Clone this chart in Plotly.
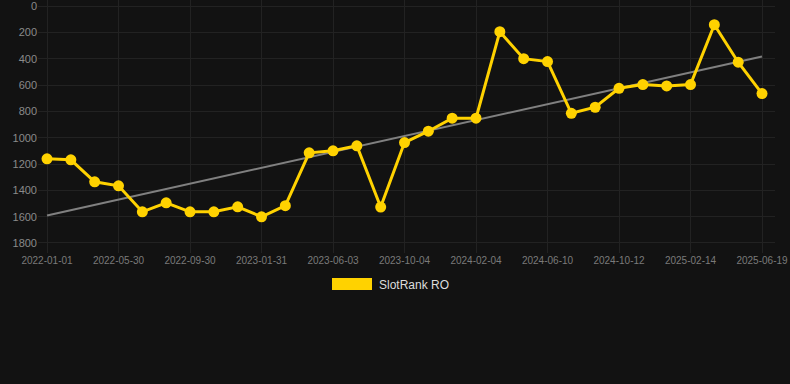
import plotly.graph_objects as go
import numpy as np

tick_labels = ["2022-01-01", "2022-05-30", "2022-09-30", "2023-01-31", "2023-06-03",
               "2023-10-04", "2024-02-04", "2024-06-10", "2024-10-12", "2025-02-14", "2025-06-19"]
rank_values = [1161, 1168, 1335, 1366, 1563, 1495, 1563, 1563, 1525, 1601, 1517,
               1115, 1100, 1062, 1527, 1037, 951, 852, 852, 195, 400, 422,
               815, 769, 625, 597, 607, 597, 142, 427, 665]
series_name = "SlotRank RO"

idx = list(range(len(rank_values)))
tick_pos = idx[::3]

coef = np.polyfit(idx, rank_values, 1)
trend = [coef[0] * i + coef[1] for i in (idx[0], idx[-1])]

gold = "#FFD200"
bg = "#121212"

W, H = 790, 384
L, R, T, B = 38, 15, 0, 131
PH = H - T - B
PW = W - L - R


def py(pix):
    return (H - B - pix) / PH


def px(pix):
    return (pix - L) / PW


fig = go.Figure()
fig.add_trace(go.Scatter(x=[idx[0], idx[-1]], y=trend, mode="lines",
                         line=dict(color="#808080", width=2), showlegend=False, hoverinfo="skip"))
fig.add_trace(go.Scatter(x=idx, y=rank_values, mode="lines+markers", name=series_name,
                         line=dict(color=gold, width=3), marker=dict(color=gold, size=11),
                         showlegend=False))

fig.update_layout(
    width=W, height=H, paper_bgcolor=bg, plot_bgcolor=bg,
    margin=dict(l=L, r=R, t=T, b=B),
    font=dict(family="Liberation Sans, Arial, sans-serif", color="#8a8a8a"),
    xaxis=dict(range=[-0.378, 30.545], tickvals=tick_pos, ticktext=tick_labels,
               showgrid=True, gridcolor="#222222", gridwidth=1, zeroline=False,
               showline=False, tickfont=dict(size=10, color="#7a7a7a"), ticks=""),
    yaxis=dict(range=[1876, -45.6], tickvals=list(range(0, 1801, 200)),
               showgrid=True, gridcolor="#222222", gridwidth=1, zeroline=False,
               showline=False, tickfont=dict(size=11, color="#8a8a8a"), ticks="",
               ticklabeloverflow="allow"),
    shapes=[dict(type="rect", xref="paper", yref="paper",
                 x0=px(332), x1=px(372), y0=py(290), y1=py(278),
                 fillcolor=gold, line=dict(width=0))],
    annotations=[dict(text=series_name, xref="paper", yref="paper",
                      x=px(377), y=py(284.5), xanchor="left", yanchor="middle",
                      showarrow=False, font=dict(size=12, color="#dddddd"))],
)
fig.write_html("out.html")
